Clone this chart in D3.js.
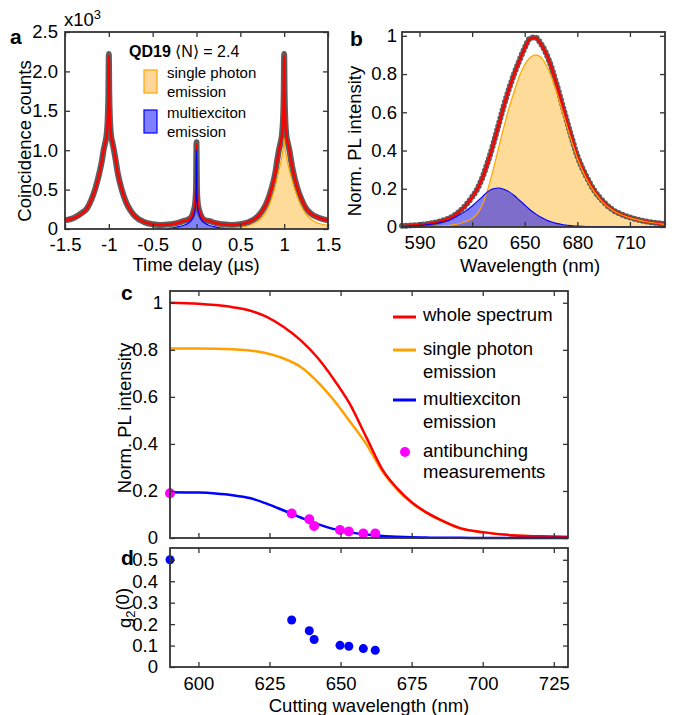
<!DOCTYPE html>
<html>
<head>
<meta charset="utf-8">
<script src="https://cdn.jsdelivr.net/npm/d3@7"></script>
<style>
  body { margin: 0; background: #fff; }
  svg text { font-family: "Liberation Sans", Arial, sans-serif; fill: #000; }
</style>
</head>
<body>
<script>
// ---- panel a : g2 histogram ----
var tDelay = [-1.5,-1.4,-1.3,-1.25,-1.2,-1.15,-1.1,-1.08,-1.06,-1.04,-1.025,-1.012,-1.005,-1,-0.995,-0.988,-0.975,-0.96,-0.94,-0.92,-0.9,-0.85,-0.8,-0.75,-0.7,-0.6,-0.5,-0.4,-0.3,-0.2,-0.15,-0.1,-0.06,-0.03,-0.015,-0.005,0,0.005,0.015,0.03,0.06,0.1,0.15,0.2,0.3,0.4,0.5,0.6,0.7,0.75,0.8,0.85,0.9,0.92,0.94,0.96,0.975,0.988,0.995,1,1.005,1.012,1.025,1.04,1.06,1.08,1.1,1.15,1.2,1.25,1.3,1.4,1.5];
var countsFit = [0.11,0.14,0.2,0.26,0.37,0.52,0.74,0.86,1.0,1.1,1.19,1.4,1.7,2.2,1.7,1.4,1.19,1.1,1.0,0.86,0.72,0.49,0.33,0.23,0.16,0.09,0.06,0.05,0.06,0.08,0.1,0.11,0.15,0.24,0.32,0.5,1.08,0.5,0.32,0.24,0.15,0.11,0.1,0.08,0.06,0.05,0.06,0.09,0.16,0.23,0.33,0.49,0.72,0.86,1.0,1.1,1.19,1.4,1.7,2.2,1.7,1.4,1.19,1.1,1.0,0.86,0.74,0.52,0.37,0.26,0.2,0.14,0.11];
var countsMeasured = [0.11,0.14,0.21,0.26,0.37,0.53,0.75,0.86,1.0,1.1,1.2,1.42,1.72,2.22,1.72,1.41,1.19,1.1,0.99,0.86,0.72,0.49,0.33,0.23,0.16,0.09,0.06,0.05,0.06,0.08,0.1,0.12,0.15,0.24,0.33,0.52,1.1,0.5,0.32,0.24,0.15,0.11,0.1,0.08,0.06,0.05,0.06,0.09,0.16,0.23,0.33,0.49,0.72,0.87,1.0,1.1,1.2,1.42,1.72,2.22,1.72,1.41,1.19,1.1,1.0,0.86,0.74,0.52,0.37,0.26,0.2,0.14,0.11];
var tMulti = [-0.35,-0.3,-0.2,-0.15,-0.1,-0.06,-0.03,-0.015,-0.005,0,0.005,0.015,0.03,0.06,0.1,0.15,0.2,0.3,0.35];
var countsMulti = [0,0.01,0.03,0.045,0.07,0.11,0.18,0.25,0.42,1.0,0.42,0.25,0.18,0.11,0.07,0.045,0.03,0.01,0];
var tSingle = [0.25,0.4,0.5,0.6,0.7,0.75,0.8,0.85,0.9,0.93,0.96,0.98,0.993,1,1.007,1.02,1.04,1.07,1.1,1.15,1.2,1.25,1.3,1.4,1.5];
var countsSingle = [0,0.01,0.02,0.045,0.1,0.15,0.23,0.36,0.55,0.7,0.84,0.95,1.05,1.15,1.05,0.95,0.84,0.7,0.58,0.41,0.28,0.19,0.13,0.07,0.045];
var aXTicks = [-1.5,-1,-0.5,0,0.5,1,1.5];
var aXLabels = ["-1.5","-1","-0.5","0","0.5","1","1.5"];
var aYTicks = [0,0.5,1,1.5,2,2.5];
var aYLabels = ["0","0.5","1.0","1.5","2.0","2.5"];

// ---- panel b : PL spectrum ----
var wavelength = [580,590,600,605,610,615,620,623,626,629,632,635,638,641,644,647,650,653,656,659,662,665,668,672,676,680,685,690,695,700,705,710,720,730];
var plMeasured = [0.006,0.011,0.026,0.039,0.062,0.1,0.157,0.2,0.262,0.342,0.432,0.532,0.632,0.722,0.802,0.872,0.937,0.987,0.992,0.962,0.912,0.842,0.752,0.622,0.492,0.372,0.267,0.187,0.131,0.091,0.067,0.05,0.028,0.016];
var plWhole = [0.005,0.01,0.025,0.038,0.06,0.1,0.155,0.2,0.26,0.34,0.43,0.53,0.63,0.72,0.8,0.87,0.935,0.985,0.99,0.96,0.91,0.84,0.75,0.62,0.49,0.37,0.265,0.185,0.13,0.09,0.066,0.049,0.027,0.015];
var plSingle = [0,0.001,0.003,0.006,0.012,0.025,0.045,0.07,0.12,0.2,0.3,0.41,0.52,0.62,0.71,0.79,0.85,0.885,0.9,0.89,0.85,0.79,0.71,0.59,0.47,0.36,0.255,0.18,0.125,0.088,0.064,0.048,0.026,0.014];
var plMulti = [0.003,0.008,0.02,0.03,0.05,0.075,0.11,0.135,0.16,0.185,0.2,0.204,0.198,0.185,0.165,0.14,0.115,0.09,0.07,0.052,0.038,0.027,0.019,0.012,0.007,0.005,0.003,0.002,0.001,0.001,0,0,0,0];
var bXTicks = [590,620,650,680,710];
var bYTicks = [0,0.2,0.4,0.6,0.8,1];
var bYLabels = ["0","0.2","0.4","0.6","0.8","1"];

// ---- panel c : integrated PL above cutting wavelength ----
var cutWl = [590,600,606,612,618,624,630,636,642,647,653,659,665,670,675,680,685,692,700,710,720,730];
var cumWhole = [1.0,0.996,0.99,0.981,0.967,0.94,0.897,0.84,0.765,0.685,0.575,0.43,0.285,0.21,0.152,0.11,0.078,0.042,0.025,0.012,0.007,0.004];
var cumSingle = [0.806,0.806,0.805,0.802,0.797,0.785,0.763,0.727,0.663,0.595,0.5,0.4,0.278,0.205,0.15,0.109,0.077,0.041,0.025,0.012,0.007,0.004];
var cumMulti = [0.195,0.193,0.189,0.182,0.17,0.146,0.117,0.087,0.059,0.04,0.025,0.015,0.008,0.005,0.003,0.002,0.001,0.001,0,0,0,0];
var abWl = [590,632.8,639,640.7,649.8,652.9,658,662.2];
var abPL = [0.19,0.104,0.08,0.051,0.034,0.028,0.019,0.019];
var cYTicks = [0,0.2,0.4,0.6,0.8,1];
var cYLabels = ["0","0.2","0.4","0.6","0.8","1"];
var cdXTicks = [600,625,650,675,700,725];

// ---- panel d : g2(0) ----
var g2Values = [0.5,0.219,0.169,0.128,0.101,0.097,0.086,0.078];
var dYTicks = [0,0.1,0.2,0.3,0.4,0.5];
var dYLabels = ["0","0.1","0.2","0.3","0.4","0.5"];

var W = 673, H = 715;
var svg = d3.select("body").append("svg").attr("width", W).attr("height", H);

var FS = "18.5px";
var frameColor = "#333";

function box(x, y, xt, xl, yt, yl, xPad, yPad) {
  var x0 = x.range()[0], x1 = x.range()[1], y0 = y.range()[0], y1 = y.range()[1];
  var g = svg.append("g");
  var fmt = function(arr, labels) {
    return function(d) { if (!labels) return ""; return labels[arr.indexOf(d)]; };
  };
  g.append("g").attr("transform", "translate(0," + y0 + ")")
    .call(d3.axisBottom(x).tickValues(xt).tickSize(-5).tickSizeOuter(0).tickPadding(xPad).tickFormat(fmt(xt, xl)));
  g.append("g").attr("transform", "translate(0," + y1 + ")")
    .call(d3.axisTop(x).tickValues(xt).tickSize(-5).tickSizeOuter(0).tickFormat(""));
  var left = g.append("g").attr("class", "yleft").attr("transform", "translate(" + x0 + ",0)")
    .call(d3.axisLeft(y).tickValues(yt).tickSize(-5).tickSizeOuter(0).tickPadding(yPad).tickFormat(fmt(yt, yl)));
  g.append("g").attr("transform", "translate(" + x1 + ",0)")
    .call(d3.axisRight(y).tickValues(yt).tickSize(-5).tickSizeOuter(0).tickFormat(""));
  g.selectAll(".domain").remove();
  g.selectAll(".tick line").attr("stroke", frameColor).attr("stroke-width", 1.3);
  g.selectAll("text").attr("font-size", FS).attr("font-family", "Liberation Sans, Arial, sans-serif").attr("fill", "#000");
  svg.append("rect").attr("x", x0).attr("y", y1).attr("width", x1 - x0).attr("height", y0 - y1)
    .attr("fill", "none").attr("stroke", frameColor).attr("stroke-width", 1.8);
  return left;
}

function pairs(xs, ys) { return xs.map(function(v, i) { return [v, ys[i]]; }); }

// ================= panel a =================
var xa = d3.scaleLinear().domain([-1.5, 1.5]).range([65, 328]);
var ya = d3.scaleLinear().domain([0, 2.5]).range([229, 32]);
var lineA = d3.line().x(function(d) { return xa(d[0]); }).y(function(d) { return ya(d[1]); }).curve(d3.curveMonotoneX);
var areaA = d3.area().x(function(d) { return xa(d[0]); }).y0(ya(0)).y1(function(d) { return ya(d[1]); }).curve(d3.curveMonotoneX);

svg.append("path").datum(pairs(tSingle, countsSingle)).attr("d", areaA).attr("fill", "#ffa500").attr("fill-opacity", 0.4);
svg.append("path").datum(pairs(tMulti, countsMulti)).attr("d", areaA).attr("fill", "#0000ff").attr("fill-opacity", 0.5);
svg.append("path").datum(pairs(tDelay, countsMeasured)).attr("d", lineA).attr("fill", "none")
  .attr("stroke", "#5e5e5e").attr("stroke-width", 6).attr("stroke-linejoin", "round");
svg.append("path").datum(pairs(tDelay, countsFit)).attr("d", lineA).attr("fill", "none")
  .attr("stroke", "#ff0000").attr("stroke-width", 2.5);
svg.append("path").datum(pairs(tSingle, countsSingle)).attr("d", lineA).attr("fill", "none")
  .attr("stroke", "#ffa500").attr("stroke-width", 1.2);
svg.append("path").datum(pairs(tMulti, countsMulti)).attr("d", lineA).attr("fill", "none")
  .attr("stroke", "#0000ff").attr("stroke-width", 1.2);

box(xa, ya, aXTicks, aXLabels, aYTicks, aYLabels, 9, 7);

svg.append("text").attr("x", 10).attr("y", 44).attr("font-size", "21px").attr("font-weight", "bold").text("a");
var ex = svg.append("text").attr("x", 64).attr("y", 26).attr("font-size", FS).text("x10");
ex.append("tspan").attr("dy", "-0.55em").attr("font-size", "13px").text("3");
svg.append("text").attr("transform", "translate(31,141) rotate(-90)").attr("text-anchor", "middle")
  .attr("font-size", FS).text("Coincidence counts");
svg.append("text").attr("x", 196).attr("y", 271).attr("text-anchor", "middle").attr("font-size", FS).text("Time delay (µs)");

// legend a
var lt = svg.append("text").attr("x", 129).attr("y", 57).attr("font-size", "16px");
lt.append("tspan").attr("font-weight", "bold").text("QD19");
lt.append("tspan").text(" \u27E8N\u27E9 = 2.4");
svg.append("rect").attr("x", 144).attr("y", 70).attr("width", 13).attr("height", 23)
  .attr("fill", "#ffd699").attr("stroke", "#ffa500").attr("stroke-width", 1.2);
svg.append("rect").attr("x", 144).attr("y", 110).attr("width", 13).attr("height", 23)
  .attr("fill", "#8080ff").attr("stroke", "#0000ff").attr("stroke-width", 1.2);
[["single photon", 78], ["emission", 97], ["multiexciton", 118], ["emission", 137]].forEach(function(r) {
  svg.append("text").attr("x", 167).attr("y", r[1]).attr("font-size", "15px").text(r[0]);
});

// ================= panel b =================
var xb = d3.scaleLinear().domain([580, 730]).range([402, 665]);
var yb = d3.scaleLinear().domain([0, 1.02]).range([227, 32]);
var lineB = d3.line().x(function(d) { return xb(d[0]); }).y(function(d) { return yb(d[1]); }).curve(d3.curveMonotoneX);
var areaB = d3.area().x(function(d) { return xb(d[0]); }).y0(yb(0)).y1(function(d) { return yb(d[1]); }).curve(d3.curveMonotoneX);

svg.append("path").datum(pairs(wavelength, plSingle)).attr("d", areaB).attr("fill", "#ffa500").attr("fill-opacity", 0.4);
svg.append("path").datum(pairs(wavelength, plMulti)).attr("d", areaB).attr("fill", "#0000ff").attr("fill-opacity", 0.5);
svg.append("path").datum(pairs(wavelength, plMeasured)).attr("d", lineB).attr("fill", "none")
  .attr("stroke", "#5e5e5e").attr("stroke-width", 6).attr("stroke-linecap", "round").attr("stroke-dasharray", "0 4.2");
svg.append("path").datum(pairs(wavelength, plWhole)).attr("d", lineB).attr("fill", "none")
  .attr("stroke", "#ff0000").attr("stroke-width", 2.5);
svg.append("path").datum(pairs(wavelength, plSingle)).attr("d", lineB).attr("fill", "none")
  .attr("stroke", "#ffa500").attr("stroke-width", 1.2);
svg.append("path").datum(pairs(wavelength, plMulti)).attr("d", lineB).attr("fill", "none")
  .attr("stroke", "#0000ff").attr("stroke-width", 1.1);

box(xb, yb, bXTicks, bXTicks.map(String), bYTicks, bYLabels, 9, 5);

svg.append("text").attr("x", 350).attr("y", 46).attr("font-size", "21px").attr("font-weight", "bold").text("b");
svg.append("text").attr("transform", "translate(361,141) rotate(-90)").attr("text-anchor", "middle")
  .attr("font-size", FS).text("Norm. PL intensity");
svg.append("text").attr("x", 530).attr("y", 272).attr("text-anchor", "middle").attr("font-size", FS).text("Wavelength (nm)");

// ================= panel c =================
var xc = d3.scaleLinear().domain([590, 730]).range([170, 568]);
var yc = d3.scaleLinear().domain([0, 1.05]).range([538, 291]);
var lineC = d3.line().x(function(d) { return xc(d[0]); }).y(function(d) { return yc(d[1]); }).curve(d3.curveMonotoneX);

svg.append("path").datum(pairs(cutWl, cumSingle)).attr("d", lineC).attr("fill", "none").attr("stroke", "#ffa000").attr("stroke-width", 2.5);
svg.append("path").datum(pairs(cutWl, cumWhole)).attr("d", lineC).attr("fill", "none").attr("stroke", "#ff0000").attr("stroke-width", 2.5);
svg.append("path").datum(pairs(cutWl, cumMulti)).attr("d", lineC).attr("fill", "none").attr("stroke", "#0000ff").attr("stroke-width", 2.5);
svg.selectAll(".ab").data(pairs(abWl, abPL)).enter().append("circle")
  .attr("cx", function(d) { return xc(d[0]); }).attr("cy", function(d) { return yc(d[1]); })
  .attr("r", 5).attr("fill", "#ff00ff");

var cLeft = box(xc, yc, cdXTicks, null, cYTicks, cYLabels, 10, 12);
// the "1" label sits a little closer to the frame
cLeft.selectAll(".tick text").filter(function(d) { return d === 1; }).attr("x", -7);

svg.append("text").attr("x", 121).attr("y", 300).attr("font-size", "21px").attr("font-weight", "bold").text("c");
svg.append("text").attr("transform", "translate(131,418) rotate(-90)").attr("text-anchor", "middle")
  .attr("font-size", FS).text("Norm. PL intensity");

// legend c
var legC = [
  { c: "#ff0000", y: 317, lines: [["whole spectrum", 321]] },
  { c: "#ffa000", y: 350, lines: [["single photon", 355], ["emission", 378]] },
  { c: "#0000ff", y: 400, lines: [["multiexciton", 405], ["emission", 428]] }
];
legC.forEach(function(l) {
  svg.append("line").attr("x1", 393).attr("x2", 416).attr("y1", l.y).attr("y2", l.y).attr("stroke", l.c).attr("stroke-width", 3);
  l.lines.forEach(function(t) { svg.append("text").attr("x", 423).attr("y", t[1]).attr("font-size", FS).text(t[0]); });
});
svg.append("circle").attr("cx", 405).attr("cy", 452).attr("r", 5).attr("fill", "#ff00ff");
svg.append("text").attr("x", 423).attr("y", 457).attr("font-size", FS).text("antibunching");
svg.append("text").attr("x", 423).attr("y", 478).attr("font-size", FS).text("measurements");

// ================= panel d =================
var yd = d3.scaleLinear().domain([0, 0.555]).range([667, 548]);
svg.selectAll(".g2").data(pairs(abWl, g2Values)).enter().append("circle")
  .attr("cx", function(d) { return xc(d[0]); }).attr("cy", function(d) { return yd(d[1]); })
  .attr("r", 4.5).attr("fill", "#0000ff");

box(xc, yd, cdXTicks, cdXTicks.map(String), dYTicks, dYLabels, 10, 12);

svg.append("text").attr("x", 121).attr("y", 565).attr("font-size", "21px").attr("font-weight", "bold").text("d");
var g2t = svg.append("text").attr("transform", "translate(131,608) rotate(-90)").attr("text-anchor", "middle").attr("font-size", FS);
g2t.append("tspan").text("g");
g2t.append("tspan").attr("dy", "0.3em").attr("font-size", "13px").text("2");
g2t.append("tspan").attr("dy", "-0.3em").text("(0)");
svg.append("text").attr("x", 369).attr("y", 712).attr("text-anchor", "middle").attr("font-size", FS).text("Cutting wavelength (nm)");
</script>
</body>
</html>
